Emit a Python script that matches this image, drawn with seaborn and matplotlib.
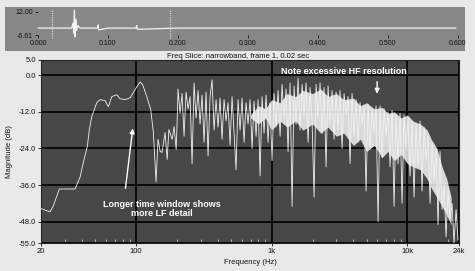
import numpy as np
import pandas as pd
import matplotlib
matplotlib.use("Agg")
import matplotlib.pyplot as plt
from matplotlib.patches import Rectangle
from matplotlib.ticker import FixedLocator, NullFormatter
import seaborn as sns

sns.set_theme(style="dark")
plt.rcParams['font.family'] = ['Liberation Sans', 'DejaVu Sans']

# ---------------- data ----------------
# top strip: waveform (time s, amplitude)
wave_t = [0.0, 0.048, 0.050, 0.051, 0.052, 0.053, 0.054, 0.055, 0.057, 0.060,
          0.085, 0.086, 0.087, 0.100, 0.140, 0.141, 0.142, 0.200, 0.300, 0.400,
          0.500, 0.597]
wave_a = [-1, -1, 3, -5, 13.5, -8, 6, -3, 1, -1,
          -1, 1.5, -2.5, -1, -1, 1, -2, -1, -1, -1,
          -1, -1]
wave_ticks = [0.0, 0.1, 0.2, 0.3, 0.4, 0.5, 0.6]
wave_tick_labels = ["0.000", "0.100", "0.200", "0.300", "0.400", "0.500", "0.600"]
wave_y_ticks = [12.0, -6.61]
wave_y_labels = ["12.00", "-6.61"]
frame_markers = [0.02, 0.189]

# main plot: low-frequency part of the magnitude trace
lf_freq = [20, 23.3, 24.6, 27.3, 35.6, 38.8, 41, 43.9, 45.4, 47.3,
           51.5, 54.4, 59.2, 62.7, 66.4, 72.3, 76.4, 83.2, 90.6, 95.8,
           101.5, 107.3, 112.3, 120.2, 128.7, 134.5, 140.8, 145.6, 151, 156,
           164, 170, 175, 185, 191, 198, 201]
lf_db = [-43.7, -44.8, -42.9, -37.3, -37.3, -33.4, -28.6, -23.3, -17.8, -13.6,
         -9, -8, -8.3, -10.3, -7, -6.4, -7.7, -8, -7.4, -5.7,
         -3.8, -2.2, -3.1, -7, -11.3, -18.8, -35, -21, -25, -25.3,
         -18.8, -27.6, -17.8, -21, -16.8, -24.3, -16.2]

# high-frequency part (spiky narrowband trace)
hf_freq = [204.5, 211.6, 218.9, 226.4, 234.2, 242.3, 250.7, 259.3, 268.3, 277.5,
           287.1, 297.0, 307.2, 317.8, 328.8, 340.1, 351.9, 364.0, 376.6, 389.6,
           403.0, 416.9, 431.3, 446.2, 461.6, 477.5, 494.0, 511.0, 528.7, 546.9,
           565.8, 585.3, 605.5, 626.4, 648.0, 670.4, 693.5, 717.4, 742.2, 767.8,
           794.3, 821.7, 850.1, 879.4, 909.7, 941.1, 973.6, 1007, 1042, 1078,
           1115, 1154, 1193, 1235, 1277, 1321, 1367, 1414, 1463, 1513,
           1566, 1620, 1676, 1733, 1793, 1855, 1919, 1985, 2054, 2125,
           2198, 2274, 2352, 2433, 2517, 2604, 2694, 2787, 2883, 2982,
           3085, 3192, 3302, 3416, 3534, 3656, 3782, 3912, 4047, 4187,
           4331, 4481, 4635, 4795, 4961, 5132, 5309, 5492, 5681, 5877,
           6080, 6290, 6507, 6731, 6963, 7204, 7452, 7709, 7975, 8250,
           8535, 8829, 9134, 9449, 9775, 10110, 10460, 10820, 11200, 11580,
           11980, 12400, 12820, 13270, 13720, 14200, 14690, 15190, 15720, 16260,
           16820, 17400, 18000, 18620, 19270, 19930, 20620, 21330, 22060, 22830,
           23610]
hf_db = [-4.5, -12.5, -6, -20, -5.5, -11, -7, -29, -2.5, -14,
         -5, -16, -6.5, -22, -5.5, -26.5, -7, -1.5, -18, -8,
         -17, -7.5, -21, -8, -15, -9, -23, -7, -19, -31,
         -8, -18, -7.5, -22, -9, -16, -8, -24, -8.5, -20,
         -8, -33, -7, -19, -6.5, -22, -9, -28, -6, -17,
         -5, -20, -3, -14, -4.5, -25, -2.5, -43, -3.5, -16,
         -1, -18, -3, -13, -2.5, -22, -4, -15, -40, -3,
         -14, -2.5, -19, -4, -30, -3.5, -16, -5, -21, -5.5,
         -18, -5, -24, -6, -13, -7, -29, -6, -20, -8,
         -22, -9, -16, -10, -38, -9.5, -24, -11, -19, -10,
         -48, -10, -27, -11, -20, -12, -30, -11.5, -43, -13,
         -29, -12.5, -42, -13, -24, -14, -33, -15, -40, -16,
         -30, -15, -38, -17, -28, -20, -42, -22, -35, -24,
         -49, -25, -44, -36, -53, -38, -47, -42, -55, -44,
         -54]

# dense white core of the HF trace (jagged envelope)
core_f = [700, 800, 900, 1000, 1150, 1300, 1500, 1700, 2000, 2300,
          2600, 3000, 3400, 4000, 4500, 5000, 5700, 6500, 7200, 8000,
          9000, 10000, 11000, 12500, 14000, 15000, 16500, 18000, 19500, 21000]
core_hi = [-13, -10, -11, -8, -9, -6, -7, -5, -6, -4.5,
           -7, -6, -8, -7.5, -10, -9, -11, -10.5, -12.5, -12,
           -14, -13, -15, -16, -18, -21, -24, -30, -34, -40]
core_lo = [-14, -16, -14, -18, -15, -17, -15, -18, -16, -19,
           -17, -20, -19, -23, -21, -25, -23, -27, -25, -28,
           -26, -29, -30, -31, -34, -37, -40, -43, -46, -49]

y_ticks = [5, 0, -12, -24, -36, -48, -55]
y_tick_labels = ["5.0", "0.0", "-12.0", "-24.0", "-36.0", "-48.0", "-55.0"]
x_ticks = [20, 100, 1000, 10000, 24000]
x_tick_labels = ["20", "100", "1k", "10k", "24k"]
x_minor = [30, 40, 50, 60, 70, 80, 90, 200, 300, 400, 500, 600, 700, 800, 900,
           2000, 3000, 4000, 5000, 6000, 7000, 8000, 9000, 20000]

trace = pd.DataFrame({"freq": lf_freq + hf_freq, "db": lf_db + hf_db})
wave = pd.DataFrame({"t": wave_t, "a": wave_a})

# ---------------- figure ----------------
W, H = 475, 271
fig = plt.figure(figsize=(W / 100, H / 100), dpi=100, facecolor="#e9e9e9")

# gray waveform panel
fig.add_artist(Rectangle((5 / W, 1 - 51 / H), 460 / W, 44 / H, transform=fig.transFigure,
                         facecolor="#888888", edgecolor="none", zorder=0))

ax_t = fig.add_axes([38 / W, 1 - 35 / H, 420 / W, 23 / H])
ax_t.set_facecolor("none")
for s in ax_t.spines.values():
    s.set_visible(False)
sns.lineplot(data=wave, x="t", y="a", ax=ax_t, color="#f4f4f4", lw=0.9,
             estimator=None, sort=False)
for line in ax_t.get_lines():
    line.set_clip_on(False)
for m in frame_markers:
    ax_t.axvline(m, ymin=-0.15, ymax=1.15, color="#e0e0e0", lw=0.8, ls=(0, (1, 1)), clip_on=False)
ax_t.set_xlim(0, 0.6)
ax_t.set_ylim(-6.61, 12.0)
ax_t.set_xticks(wave_ticks)
ax_t.set_xticklabels(wave_tick_labels)
ax_t.set_yticks(wave_y_ticks)
ax_t.set_yticklabels(wave_y_labels)
ax_t.tick_params(axis="both", labelsize=5, length=2, width=0.6, pad=1.5,
                 colors="#111111", bottom=True, left=True)
ax_t.set_xlabel("")
ax_t.set_ylabel("")
ax_t.grid(False)

fig.text(238 / W, 1 - 57 / H, "Freq Slice: narrowband, frame 1, 0.02 sec",
         ha="center", va="center", fontsize=5.5, color="#111111")

# main magnitude plot
ax = fig.add_axes([41 / W, 28 / H, 418 / W, 183 / H])
ax.set_facecolor("#474747")
ax.set_xscale("log")
ax.fill_between(core_f, core_lo, core_hi, color="white", alpha=0.8, lw=0, zorder=3)
sns.lineplot(data=trace, x="freq", y="db", ax=ax, color="#f2f2f2", lw=0.6,
             estimator=None, sort=False, zorder=4)
ax.set_xlim(20, 24000)
ax.set_ylim(-55, 5)
ax.set_yticks(y_ticks)
ax.set_yticklabels(y_tick_labels)
ax.set_xticks(x_ticks)
ax.set_xticklabels(x_tick_labels)
ax.xaxis.set_minor_locator(FixedLocator(x_minor))
ax.xaxis.set_minor_formatter(NullFormatter())
ax.grid(True, which="major", color="black", lw=1.2, zorder=1)
ax.set_axisbelow(True)
ax.tick_params(axis="both", which="major", labelsize=5.5, length=2, width=0.6, pad=1.5,
               colors="#111111", bottom=True, left=True)
ax.tick_params(axis="x", which="minor", direction="in", length=3, width=0.6,
               colors="#bbbbbb", bottom=True)
ax.set_xlabel("")
ax.set_ylabel("")
for s in ax.spines.values():
    s.set_color("#222222")
    s.set_linewidth(0.8)

fig.text(10 / W, 1 - 152 / H, "Magnitude (dB)", rotation=90, ha="center", va="center",
         fontsize=5.5, color="#111111")
fig.text(250 / W, 1 - 262 / H, "Frequency (Hz)", ha="center", va="center",
         fontsize=5.5, color="#111111")

# annotations
ax.annotate("", xy=(95.4, -16.5), xytext=(83.3, -38),
            arrowprops=dict(arrowstyle="-|>", color="white", lw=1.0, mutation_scale=7),
            zorder=6)
ax.text(156, -43.9, "Longer time window shows\nmore LF detail", ha="center", va="center",
        color="white", fontsize=6.5, fontweight="bold", linespacing=1.05, zorder=6)
ax.annotate("", xy=(5985, -7), xytext=(5985, -1.2),
            arrowprops=dict(arrowstyle="-|>", color="white", lw=1.0, mutation_scale=7),
            zorder=6)
ax.text(3420, 1.1, "Note excessive HF resolution", ha="center", va="center",
        color="white", fontsize=6.5, fontweight="bold", zorder=6)

fig.savefig("out.png", dpi=100, facecolor=fig.get_facecolor())
